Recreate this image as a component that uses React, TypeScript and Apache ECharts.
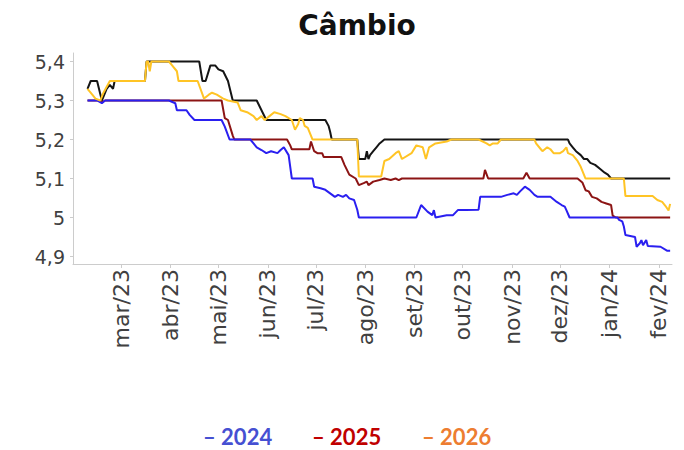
import React, { useEffect, useRef } from 'react';
import * as echarts from 'echarts';

const tickDates = ['2023-03-01', '2023-04-01', '2023-05-01', '2023-06-01', '2023-07-01', '2023-08-01', '2023-09-01', '2023-10-01', '2023-11-01', '2023-12-01', '2024-01-01', '2024-02-01'];
const tickLabels = ['mar/23', 'abr/23', 'mai/23', 'jun/23', 'jul/23', 'ago/23', 'set/23', 'out/23', 'nov/23', 'dez/23', 'jan/24', 'fev/24'];
const yTicks = [4.9, 5, 5.1, 5.2, 5.3, 5.4];
const legendNames = ['2024', '2025', '2026'];
const legendColors = ['#4650d2', '#c00000', '#ed7d31'];

const s2023: [string, number][] = [
  ['2023-02-08', 5.33], ['2023-02-10', 5.35], ['2023-02-14', 5.35], ['2023-02-17', 5.30], ['2023-02-20', 5.33],
  ['2023-02-22', 5.34], ['2023-02-24', 5.33], ['2023-02-25', 5.35], ['2023-03-16', 5.35], ['2023-03-17', 5.40],
  ['2023-04-19', 5.40], ['2023-04-21', 5.35], ['2023-04-23', 5.35], ['2023-04-26', 5.39], ['2023-04-29', 5.39],
  ['2023-05-01', 5.38], ['2023-05-04', 5.375], ['2023-05-07', 5.35], ['2023-05-10', 5.30], ['2023-05-25', 5.30],
  ['2023-05-28', 5.275], ['2023-05-31', 5.25], ['2023-07-07', 5.25], ['2023-07-09', 5.235], ['2023-07-10', 5.22],
  ['2023-07-11', 5.20], ['2023-07-27', 5.20], ['2023-07-28', 5.15], ['2023-08-01', 5.15], ['2023-08-02', 5.17],
  ['2023-08-03', 5.15], ['2023-08-04', 5.16], ['2023-08-06', 5.17], ['2023-08-08', 5.18], ['2023-08-10', 5.19],
  ['2023-08-13', 5.20], ['2023-12-06', 5.20], ['2023-12-07', 5.19], ['2023-12-09', 5.18], ['2023-12-11', 5.17],
  ['2023-12-14', 5.16], ['2023-12-16', 5.15], ['2023-12-18', 5.15], ['2023-12-20', 5.14], ['2023-12-23', 5.135],
  ['2023-12-26', 5.125], ['2023-12-29', 5.115], ['2023-12-31', 5.11], ['2024-01-02', 5.10], ['2024-02-08', 5.10],
];

const s2025: [string, number][] = [
  ['2023-02-08', 5.30], ['2023-02-15', 5.30], ['2023-02-17', 5.295], ['2023-02-19', 5.30], ['2023-05-03', 5.30],
  ['2023-05-05', 5.255], ['2023-05-07', 5.25], ['2023-05-10', 5.21], ['2023-05-11', 5.20], ['2023-06-13', 5.20],
  ['2023-06-15', 5.185], ['2023-06-16', 5.175], ['2023-06-27', 5.175], ['2023-06-28', 5.195], ['2023-06-30', 5.17],
  ['2023-07-02', 5.165], ['2023-07-05', 5.165], ['2023-07-06', 5.155], ['2023-07-17', 5.155], ['2023-07-19', 5.135],
  ['2023-07-22', 5.11], ['2023-07-26', 5.10], ['2023-07-28', 5.083], ['2023-07-31', 5.088], ['2023-08-02', 5.092],
  ['2023-08-03', 5.083], ['2023-08-06', 5.092], ['2023-08-10', 5.096], ['2023-08-13', 5.10], ['2023-08-17', 5.096],
  ['2023-08-20', 5.10], ['2023-08-22', 5.096], ['2023-08-24', 5.10], ['2023-10-14', 5.10], ['2023-10-15', 5.122],
  ['2023-10-17', 5.10], ['2023-11-08', 5.10], ['2023-11-10', 5.115], ['2023-11-12', 5.10], ['2023-12-12', 5.10],
  ['2023-12-15', 5.09], ['2023-12-17', 5.07], ['2023-12-19', 5.067], ['2023-12-21', 5.053], ['2023-12-24', 5.049],
  ['2023-12-27', 5.04], ['2023-12-30', 5.036], ['2024-01-02', 5.032], ['2024-01-03', 5.005], ['2024-01-05', 5.00],
  ['2024-02-08', 5.00],
];

const s2024: [string, number][] = [
  ['2023-02-08', 5.30], ['2023-02-14', 5.30], ['2023-02-17', 5.293], ['2023-02-19', 5.30], ['2023-03-31', 5.30],
  ['2023-04-04', 5.293], ['2023-04-05', 5.275], ['2023-04-11', 5.275], ['2023-04-13', 5.263], ['2023-04-16', 5.25],
  ['2023-05-03', 5.25], ['2023-05-05', 5.233], ['2023-05-08', 5.20], ['2023-05-21', 5.20], ['2023-05-23', 5.19],
  ['2023-05-25', 5.18], ['2023-05-28', 5.173], ['2023-05-31', 5.165], ['2023-06-03', 5.17], ['2023-06-07', 5.165],
  ['2023-06-09', 5.173], ['2023-06-11', 5.18], ['2023-06-14', 5.16], ['2023-06-16', 5.10], ['2023-06-29', 5.10],
  ['2023-06-30', 5.079], ['2023-07-04', 5.075], ['2023-07-07', 5.071], ['2023-07-10', 5.062], ['2023-07-13', 5.053],
  ['2023-07-15', 5.058], ['2023-07-18', 5.053], ['2023-07-20', 5.058], ['2023-07-22', 5.049], ['2023-07-25', 5.045],
  ['2023-07-27', 5.02], ['2023-07-28', 5.00], ['2023-09-02', 5.00], ['2023-09-05', 5.032], ['2023-09-09', 5.015],
  ['2023-09-12', 5.006], ['2023-09-13', 5.019], ['2023-09-14', 5.00], ['2023-09-21', 5.006], ['2023-09-25', 5.006],
  ['2023-09-28', 5.019], ['2023-10-03', 5.019], ['2023-10-11', 5.02], ['2023-10-12', 5.053], ['2023-10-25', 5.053],
  ['2023-10-29', 5.058], ['2023-11-02', 5.062], ['2023-11-04', 5.058], ['2023-11-06', 5.067], ['2023-11-09', 5.079],
  ['2023-11-12', 5.071], ['2023-11-15', 5.058], ['2023-11-17', 5.053], ['2023-11-25', 5.053], ['2023-11-29', 5.04],
  ['2023-12-02', 5.032], ['2023-12-04', 5.028], ['2023-12-05', 5.019], ['2023-12-07', 5.00], ['2024-01-06', 5.00],
  ['2024-01-07', 4.994], ['2024-01-09', 4.99], ['2024-01-10', 4.977], ['2024-01-11', 4.955], ['2024-01-17', 4.95],
  ['2024-01-18', 4.925], ['2024-01-20', 4.934], ['2024-01-21', 4.942], ['2024-01-22', 4.929], ['2024-01-24', 4.942],
  ['2024-01-25', 4.927], ['2024-02-02', 4.925], ['2024-02-06', 4.915], ['2024-02-08', 4.915],
];

const s2026: [string, number][] = [
  ['2023-02-08', 5.33], ['2023-02-11', 5.315], ['2023-02-13', 5.305], ['2023-02-16', 5.30], ['2023-02-18', 5.32],
  ['2023-02-22', 5.35], ['2023-03-16', 5.35], ['2023-03-17', 5.40], ['2023-03-18', 5.40], ['2023-03-19', 5.375],
  ['2023-03-20', 5.40], ['2023-03-31', 5.40], ['2023-04-02', 5.39], ['2023-04-05', 5.375], ['2023-04-06', 5.35],
  ['2023-04-18', 5.35], ['2023-04-22', 5.305], ['2023-04-25', 5.315], ['2023-04-27', 5.32], ['2023-04-30', 5.315],
  ['2023-05-04', 5.305], ['2023-05-07', 5.30], ['2023-05-13', 5.295], ['2023-05-15', 5.275], ['2023-05-19', 5.27],
  ['2023-05-23', 5.26], ['2023-05-25', 5.25], ['2023-05-28', 5.26], ['2023-05-30', 5.25], ['2023-06-02', 5.26],
  ['2023-06-05', 5.27], ['2023-06-09', 5.265], ['2023-06-12', 5.26], ['2023-06-16', 5.25], ['2023-06-18', 5.225],
  ['2023-06-20', 5.24], ['2023-06-21', 5.255], ['2023-06-23', 5.25], ['2023-06-24', 5.235], ['2023-06-26', 5.23],
  ['2023-06-29', 5.20], ['2023-07-27', 5.20], ['2023-07-28', 5.105], ['2023-08-11', 5.105], ['2023-08-13', 5.145],
  ['2023-08-16', 5.15], ['2023-08-20', 5.165], ['2023-08-22', 5.17], ['2023-08-24', 5.15], ['2023-08-30', 5.165],
  ['2023-09-02', 5.185], ['2023-09-06', 5.18], ['2023-09-08', 5.15], ['2023-09-10', 5.18], ['2023-09-14', 5.19],
  ['2023-09-21', 5.195], ['2023-09-24', 5.20], ['2023-10-11', 5.20], ['2023-10-16', 5.19], ['2023-10-18', 5.185],
  ['2023-10-20', 5.19], ['2023-10-23', 5.19], ['2023-10-25', 5.20], ['2023-11-15', 5.20], ['2023-11-16', 5.19],
  ['2023-11-19', 5.175], ['2023-11-20', 5.17], ['2023-11-23', 5.18], ['2023-11-25', 5.175], ['2023-11-27', 5.165],
  ['2023-12-01', 5.165], ['2023-12-03', 5.17], ['2023-12-05', 5.18], ['2023-12-06', 5.165], ['2023-12-09', 5.16],
  ['2023-12-12', 5.145], ['2023-12-14', 5.13], ['2023-12-17', 5.10], ['2024-01-10', 5.10], ['2024-01-11', 5.055],
  ['2024-01-28', 5.055], ['2024-01-31', 5.045], ['2024-02-03', 5.04], ['2024-02-05', 5.03], ['2024-02-07', 5.018],
  ['2024-02-08', 5.035],
];

const ts = (s: string) => {
  const [y, m, d] = s.split('-').map(Number);
  return Date.UTC(y, m - 1, d);
};
const toData = (arr: [string, number][]) => arr.map(([d, v]) => [ts(d), v]);
const tickTs = tickDates.map(ts);

const X_MIN = Date.UTC(2023, 0, 29, 22);
const X_MAX = Date.UTC(2024, 1, 9, 4);
const Y_MIN = 4.8808;
const Y_MAX = 5.4218;

export default function App() {
  const ref = useRef<HTMLDivElement>(null);
  useEffect(() => {
    document.body.style.margin = '0';
    const chart = echarts.init(ref.current!, undefined, { renderer: 'svg' });
    const line = (name: string, color: string, arr: [string, number][]) => ({
      name,
      type: 'line',
      data: toData(arr),
      showSymbol: false,
      symbol: 'none',
      lineStyle: { color, width: 2 },
      itemStyle: { color },
      z: 2,
    });
    const legendX = [203, 312, 422];
    chart.setOption({
      animation: false,
      backgroundColor: '#ffffff',
      grid: { left: 73, right: 12, top: 53, bottom: 186 },
      xAxis: {
        type: 'value',
        min: X_MIN,
        max: X_MAX,
        splitLine: { show: false },
        axisLine: { show: true, lineStyle: { color: '#cccccc', width: 1 } },
        axisTick: { show: true, customValues: tickTs, length: 4, lineStyle: { color: '#cccccc' } },
        axisLabel: {
          customValues: tickTs,
          rotate: 90,
          margin: 5,
          color: '#404040',
          fontFamily: 'DejaVu Sans',
          fontSize: 22,
          padding: [10, 0, 0, 0],
          formatter: (v: number) => {
            let best = 0;
            tickTs.forEach((t, i) => { if (Math.abs(t - v) < Math.abs(tickTs[best] - v)) best = i; });
            return tickLabels[best];
          },
        },
      },
      yAxis: {
        type: 'value',
        min: Y_MIN,
        max: Y_MAX,
        splitLine: { show: false },
        axisLine: { show: true, lineStyle: { color: '#cccccc', width: 1 } },
        axisTick: { show: true, customValues: yTicks, length: 3, lineStyle: { color: '#cccccc' } },
        axisLabel: {
          customValues: yTicks,
          margin: 8,
          color: '#404040',
          fontFamily: 'DejaVu Sans',
          fontSize: 19,
          formatter: (v: number) => (Math.abs(v - 5) < 1e-6 ? '5' : v.toFixed(1).replace('.', ',')),
        },
      },
      series: [
        line('2023', '#151515', s2023),
        line('2025', '#8c1414', s2025),
        line('2024', '#2a1ff0', s2024),
        line('2026', '#ffc425', s2026),
      ],
      graphic: [
        { type: 'text', x: 357, y: 25, style: { text: 'Câmbio', fontFamily: 'DejaVu Sans', fontWeight: 'bold', fontSize: 28, fill: '#111111', align: 'center', verticalAlign: 'middle' } },
        ...legendNames.map((n, i) => ({
          type: 'text',
          x: legendX[i],
          y: 436,
          style: { text: '– ' + n, fontFamily: 'Lato', fontWeight: 'bold', fontSize: 22, lineHeight: 24, fill: legendColors[i], align: 'left', verticalAlign: 'middle' },
        })),
      ],
    });
    return () => chart.dispose();
  }, []);
  return <div ref={ref} style={{ width: 684, height: 450 }} />;
}
